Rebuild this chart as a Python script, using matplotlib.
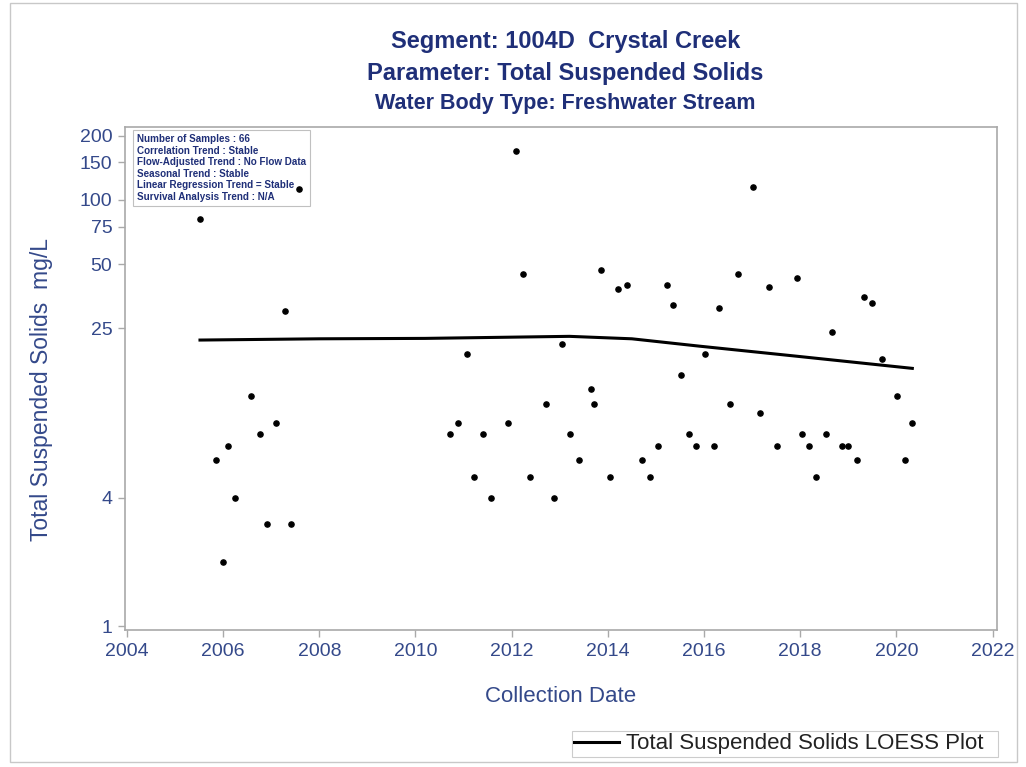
import matplotlib
matplotlib.use("Agg")
import matplotlib.pyplot as plt
from matplotlib.patches import Rectangle

# sample dates (decimal years) and TSS values in mg/L
sample_year = [
    2005.53, 2005.85, 2006.00, 2006.11, 2006.25, 2006.59, 2006.77, 2006.92,
    2007.09, 2007.29, 2007.41, 2007.58,
    2010.72, 2010.88, 2011.07, 2011.22, 2011.40, 2011.56, 2011.92, 2012.08,
    2012.23, 2012.38, 2012.72, 2012.89, 2013.05, 2013.22, 2013.40, 2013.64,
    2013.71, 2013.86, 2014.05, 2014.21, 2014.39, 2014.70, 2014.87, 2015.05,
    2015.22, 2015.35, 2015.52, 2015.68, 2015.84, 2016.02, 2016.20, 2016.31,
    2016.53, 2016.70, 2017.02, 2017.17, 2017.34, 2017.51, 2017.94, 2018.04,
    2018.18, 2018.33, 2018.53, 2018.66, 2018.87, 2019.00, 2019.17, 2019.32,
    2019.49, 2019.69, 2020.01, 2020.17, 2020.33,
]
sample_tss = [
    81, 6, 2, 7, 4, 12, 8, 3,
    9, 30, 3, 113,
    8, 9, 19, 5, 8, 4, 9, 170,
    45, 5, 11, 4, 21, 8, 6, 13,
    11, 47, 5, 38, 40, 6, 5, 7,
    40, 32, 15, 8, 7, 19, 7, 31,
    11, 45, 115, 10, 39, 7, 43, 8,
    7, 5, 8, 24, 7, 7, 6, 35,
    33, 18, 12, 6, 9,
]

# LOESS fit
loess_year = [2005.52, 2008.0, 2010.2, 2013.2, 2014.5, 2015.9, 2017.9, 2020.33]
loess_tss = [22.0, 22.3, 22.4, 22.9, 22.3, 20.6, 18.5, 16.2]

x_ticks = [2004, 2006, 2008, 2010, 2012, 2014, 2016, 2018, 2020, 2022]
y_ticks = [1, 4, 25, 50, 75, 100, 150, 200]

inset_lines = [
    "Number of Samples : 66",
    "Correlation Trend : Stable",
    "Flow-Adjusted Trend : No Flow Data",
    "Seasonal Trend : Stable",
    "Linear Regression Trend = Stable",
    "Survival Analysis Trend : N/A",
]

navy = "#1f2f78"
label_blue = "#34498a"
frame_gray = "#a9a9a9"

plt.rcParams["font.family"] = ["Liberation Sans", "DejaVu Sans"]

fig = plt.figure(figsize=(10.26, 7.67), dpi=100)
fig.patches.append(Rectangle((0.0097, 0.006), 0.982, 0.99, transform=fig.transFigure,
                             fill=False, edgecolor="#c8c8c8", linewidth=1.0))

ax = fig.add_axes([0.1218, 0.1786, 0.8499, 0.6558])
ax.set_yscale("log")
ax.set_xlim(2003.96, 2022.09)
ax.set_ylim(0.958, 220)

ax.plot(loess_year, loess_tss, color="black", linewidth=2.2, zorder=3,
        label="Total Suspended Solids LOESS Plot  ")
ax.scatter(sample_year, sample_tss, s=14, color="black", zorder=4)

ax.set_xticks(x_ticks)
ax.set_xticklabels([str(v) for v in x_ticks])
ax.set_yticks(y_ticks)
ax.set_yticklabels([str(v) for v in y_ticks])
ax.minorticks_off()
ax.tick_params(axis="both", direction="out", length=5, width=1, color=frame_gray,
               labelsize=14, labelcolor=label_blue, pad=4)
for spine in ax.spines.values():
    spine.set_color(frame_gray)
    spine.set_linewidth(1.2)

ax.set_xlabel("Collection Date", fontsize=16, color=label_blue)
ax.xaxis.set_label_coords(0.5, -0.112)
ax.set_ylabel("Total Suspended Solids  mg/L", fontsize=16.5, color=label_blue)
ax.yaxis.set_label_coords(-0.083, 0.478)

# inset with trend summary, drawn under the points
inset_text = "\n".join(inset_lines)
ax.text(0.0135, 0.986, inset_text, transform=ax.transAxes, ha="left", va="top",
        fontsize=7.1, fontweight="bold", color=navy, linespacing=1.2, zorder=2.5,
        bbox=dict(boxstyle="square,pad=0.4", facecolor="white", edgecolor="#c0c0c0",
                  linewidth=0.8))

fig.text(0.551, 0.946, "Segment: 1004D  Crystal Creek", ha="center", va="center",
         fontsize=17, fontweight="bold", color=navy)
fig.text(0.551, 0.904, "Parameter: Total Suspended Solids", ha="center", va="center",
         fontsize=17, fontweight="bold", color=navy)
fig.text(0.551, 0.865, "Water Body Type: Freshwater Stream", ha="center", va="center",
         fontsize=15.5, fontweight="bold", color=navy)

leg = fig.legend(loc="lower right", bbox_to_anchor=(0.9727, 0.013), fontsize=16,
                 frameon=True, fancybox=False, edgecolor="#c0c0c0", handlelength=2.0,
                 handletextpad=0.3, borderpad=0.12, borderaxespad=0)
leg.get_frame().set_linewidth(0.8)
for t in leg.get_texts():
    t.set_color("#222222")

fig.savefig("out.png", dpi=100)
